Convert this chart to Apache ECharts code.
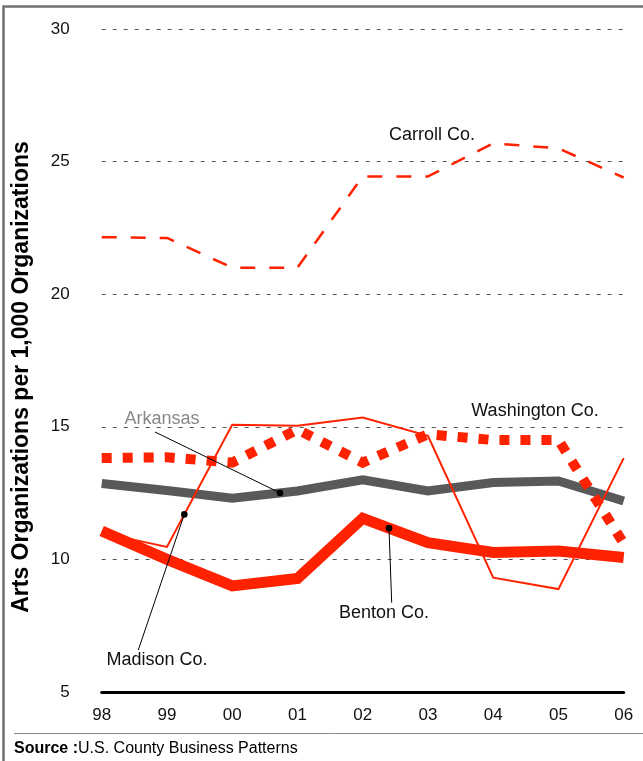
<!DOCTYPE html>
<html>
<head>
<meta charset="utf-8">
<script src="https://cdn.jsdelivr.net/npm/echarts@6/dist/echarts.min.js"></script>
<style>
html,body{margin:0;padding:0;background:#fff;}
#chart{width:643px;height:761px;}
</style>
</head>
<body>
<div id="chart"></div>
<script>
// ---- data ----
var categories = ['98','99','00','01','02','03','04','05','06'];
var yTicks = [5, 10, 15, 20, 25, 30];
var carroll    = [22.15, 22.12, 21.0, 21.0, 24.44, 24.44, 25.69, 25.5, 24.4];
var washington = [13.82, 13.85, 13.65, 14.9, 13.65, 14.72, 14.5, 14.5, 10.6];
var arkansas   = [12.86, 12.6, 12.31, 12.58, 13.0, 12.58, 12.9, 12.96, 12.2];
var benton     = [11.07, 10.0, 9.0, 9.28, 11.55, 10.63, 10.26, 10.32, 10.07];
var madison    = [11.0, 10.47, 15.08, 15.04, 15.35, 14.66, 9.31, 8.88, 13.82];

var FONT = "'Liberation Sans', Arial, Helvetica, sans-serif";
var RED = '#ff2200';

var chart = echarts.init(document.getElementById('chart'), null, {renderer: 'canvas'});

var option = {
  animation: false,
  backgroundColor: '#fff',
  grid: {left: 101.7, right: 19.3, top: 29, bottom: 69, containLabel: false},
  xAxis: {
    type: 'category',
    data: categories,
    boundaryGap: false,
    axisLine: {show: true, lineStyle: {color: '#000', width: 3}},
    axisTick: {show: false},
    splitLine: {show: false},
    axisLabel: {color: '#111', fontSize: 17, fontFamily: FONT, margin: 15}
  },
  yAxis: {
    type: 'value',
    min: yTicks[0],
    max: yTicks[yTicks.length - 1],
    interval: 5,
    axisLine: {show: false},
    axisTick: {show: false},
    axisLabel: {color: '#111', fontSize: 17, fontFamily: FONT, margin: 32},
    splitLine: {show: true, lineStyle: {color: '#555', width: 1, type: [4, 7]}}
  },
  series: [
    {name: 'Arkansas', type: 'line', data: arkansas, symbol: 'none', z: 2,
     lineStyle: {color: '#595959', width: 9, join: 'miter'}},
    {name: 'Benton Co.', type: 'line', data: benton, symbol: 'none', z: 3,
     lineStyle: {color: RED, width: 11, join: 'miter'}},
    {name: 'Carroll Co.', type: 'line', data: carroll, symbol: 'none', z: 3,
     lineStyle: {color: RED, width: 2.5, type: [15, 14], cap: 'butt'}},
    {name: 'Washington Co.', type: 'line', data: washington, symbol: 'none', z: 4,
     lineStyle: {color: RED, width: 10, type: [10, 11], cap: 'butt', join: 'miter'}},
    {name: 'Madison Co.', type: 'line', data: madison, symbol: 'none', z: 5,
     lineStyle: {color: RED, width: 2, join: 'miter'}}
  ]
};
chart.setOption(option);

// point on a series polyline at fractional category position t
function pointOn(data, t) {
  var i = Math.floor(t), f = t - i;
  var a = chart.convertToPixel({gridIndex: 0}, [i, data[i]]);
  var b = chart.convertToPixel({gridIndex: 0}, [i + 1, data[i + 1]]);
  return [a[0] + (b[0] - a[0]) * f, a[1] + (b[1] - a[1]) * f];
}

var pArk = pointOn(arkansas, 2.733);
var pMad = pointOn(madison, 1.266);
var pBen = pointOn(benton, 4.403);

function txt(s, x, y, color) {
  return {type: 'text', z: 20, style: {text: s, x: x, y: y, fill: color || '#111',
          font: '18px ' + FONT, align: 'center', verticalAlign: 'middle'}};
}
function seg(x1, y1, x2, y2) {
  return {type: 'line', shape: {x1: x1, y1: y1, x2: x2, y2: y2},
          style: {stroke: '#000', lineWidth: 1}, z: 20};
}
function dot(p) {
  return {type: 'circle', shape: {cx: p[0], cy: p[1], r: 3.3}, style: {fill: '#000'}, z: 21};
}

chart.setOption({
  graphic: [
    {type: 'rect', shape: {x: 3.5, y: 6.5, width: 700, height: 800},
     style: {fill: 'none', stroke: '#707070', lineWidth: 2.5}, z: 0, silent: true},
    {type: 'text', x: 22, y: 377, rotation: Math.PI / 2,
     style: {text: 'Arts Organizations per 1,000 Organizations', fill: '#000',
             font: 'bold 23px ' + FONT, align: 'center', verticalAlign: 'middle'}, z: 20},
    txt('Carroll Co.', 432, 135),
    txt('Washington Co.', 535, 411),
    txt('Arkansas', 162, 419, '#888'),
    txt('Benton Co.', 384, 613),
    txt('Madison Co.', 157, 660),
    seg(155, 432, pArk[0], pArk[1]), dot(pArk),
    seg(138.3, 650, pMad[0], pMad[1]), dot(pMad),
    seg(391.7, 602.7, pBen[0], pBen[1]), dot(pBen),
    {type: 'line', shape: {x1: 14, y1: 733.5, x2: 643, y2: 733.5},
     style: {stroke: '#8a8a8a', lineWidth: 1}, z: 20},
    {type: 'text', z: 20, style: {
      text: '{b|Source :}{r|U.S. County Business Patterns}', x: 14, y: 749,
      verticalAlign: 'middle', align: 'left',
      rich: {
        b: {font: 'bold 16px ' + FONT, fill: '#000'},
        r: {font: '16px ' + FONT, fill: '#000'}
      }}}
  ]
});
</script>
</body>
</html>
